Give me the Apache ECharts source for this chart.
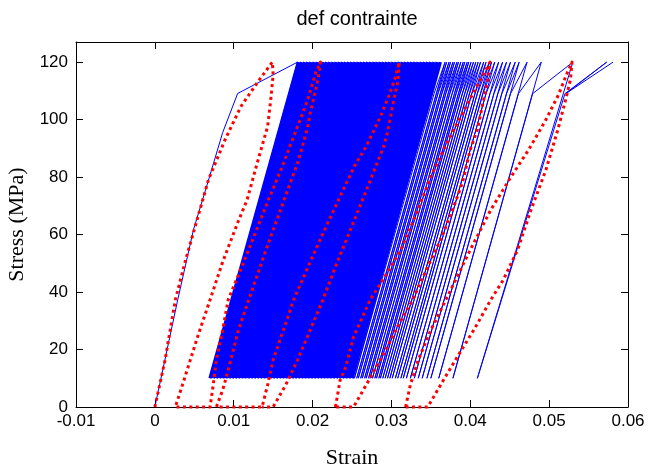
<!DOCTYPE html>
<html><head><meta charset="utf-8">
<script src="https://cdn.jsdelivr.net/npm/echarts@6/dist/echarts.min.js"></script>
<style>html,body{margin:0;padding:0;background:#fff}#c{width:651px;height:468px}</style>
</head><body><div id="c"></div>
<script>
// ---- axis ticks ----
const xTickValues = [-0.01, 0, 0.01, 0.02, 0.03, 0.04, 0.05, 0.06];
const xTickLabels = ['-0.01', '0', '0.01', '0.02', '0.03', '0.04', '0.05', '0.06'];
const yTickValues = [0, 20, 40, 60, 80, 100, 120];
const yTickLabels = ['0', '20', '40', '60', '80', '100', '120'];

// ---- blue (simulation): first loading ----
const blueInitStrain = [0, 0.0029, 0.0049, 0.0067, 0.0086, 0.0105, 0.0181];
const blueInitStress = [0, 37.3, 61.7, 78.0, 95.5, 109.1, 120];
const blueValleyStress = 10;
const blueKinkStress = 109;
const bluePeakStress = 120;

// ---- blue: densely packed cycles (strain at 10 MPa valley / 120 MPa peak) ----
const denseValley = [0.0070,0.0074,0.0078,0.0082,0.0086,0.0090,0.0094,0.0098,0.0102,0.0106,0.0110,0.0114,0.0118,0.0122,0.0126,0.0130,0.0134,0.0138,0.0142,0.0146,0.0150,0.0154,0.0158,0.0162,0.0166,0.0170,0.0174,0.0178,0.0182,0.0186,0.0190,0.0194,0.0198,0.0202,0.0206,0.0210,0.0214,0.0218,0.0222,0.0226,0.0230,0.0234,0.0238,0.0242,0.0246,0.0250];
const densePeak = [0.0182,0.0186,0.0190,0.0194,0.0198,0.0202,0.0206,0.0210,0.0214,0.0218,0.0222,0.0226,0.0230,0.0234,0.0238,0.0242,0.0246,0.0250,0.0254,0.0258,0.0262,0.0266,0.0270,0.0274,0.0278,0.0282,0.0286,0.0290,0.0294,0.0298,0.0302,0.0306,0.0310,0.0314,0.0318,0.0322,0.0326,0.0330,0.0334,0.0338,0.0342,0.0346,0.0350,0.0354,0.0358,0.0362];

// ---- blue: later, separated cycles ----
const sparseValley = [0.0253,0.0256,0.0258,0.0261,0.0263,0.0266,0.0268,0.0271,0.0273,0.0276,0.0279,0.0281,0.0284,0.0286,0.0289,0.0292,0.0295,0.0298,0.0301,0.0305,0.0308,0.0312,0.0315,0.0319,0.0324,0.0329,0.0334,0.0339,0.0345,0.0350,0.0360,0.0378,0.0409];
const sparseKink = [0.0354,0.0357,0.0359,0.0362,0.0364,0.0367,0.0369,0.0372,0.0374,0.0377,0.0380,0.0382,0.0385,0.0387,0.0390,0.0393,0.0396,0.0399,0.0402,0.0406,0.0409,0.0413,0.0416,0.0420,0.0425,0.0430,0.0435,0.0440,0.0446,0.0451,0.0461,0.0479,0.0520];
const sparsePeak = [0.0368,0.0370,0.0373,0.0375,0.0378,0.0380,0.0383,0.0385,0.0388,0.0391,0.0393,0.0396,0.0398,0.0401,0.0404,0.0407,0.0410,0.0413,0.0417,0.0420,0.0424,0.0427,0.0431,0.0436,0.0441,0.0446,0.0451,0.0457,0.0462,0.0472,0.0490,0.0530,0.0573];
// last excursion after the final peak
const blueTailStrain = [0.0521, 0.0581];
const blueTailStress = [109, 120];

// ---- red (dotted) loops ----
const redAStrain = [0,0.0013,0.0026,0.0039,0.0051,0.0068,0.0089,0.0109,0.0130,0.0149,
  0.0150,0.0147,0.0143,0.0131,0.0117,0.0105,0.0086,0.0070,0.0055,0.0045,0.0035,0.0026,
  0.0070,0.0074,0.0078,0.0086,0.0093,0.0119,0.0144,0.0159,0.0178,0.0194,0.0204,0.0210,
  0.0207,0.0201,0.0197,0.0194,0.0187,0.0181,0.0164,0.0141,0.0119,0.0106,0.0092,0.0086,0.0078,
  0.0136,0.0143,0.0150,0.0163,0.0176,0.0197,0.0220,0.0242,0.0254,0.0267,0.0277,0.0287,0.0296,0.0304,0.0310,
  0.0308,0.0303,0.0299,0.0295,0.0290,0.0282,0.0267,0.0248,0.0230,0.0213,0.0197,0.0181,0.0166,0.0150,0.0136];
const redAStress = [0,16.4,37.3,51.2,62.7,79.1,93.0,104.5,112.9,120,
  115.7,107,97.6,86.1,72.1,64.1,50.5,37.3,25.1,16.4,7.7,0,
  0,7.7,16.4,26.8,37.3,54.7,72.1,81.9,95.5,107.0,116.4,120,
  113.9,107,102.4,97.6,90.6,85,72.1,54.7,37.3,26.8,11.8,5.9,0,
  0,7.7,16.4,26.8,37.3,50.5,64.5,77.4,84.3,90.2,95.8,101.7,107.7,113.9,120,
  112.9,107,101,95.5,90.6,85,74.6,61.7,49.5,37.3,26.8,16.4,7.7,0,0];
const redBStrain = [0.0229,0.0235,0.0242,0.0252,0.0273,0.0293,0.0312,0.0331,0.0350,0.0366,0.0384,0.0404,0.0425,
  0.0423,0.0417,0.0409,0.0400,0.0390,0.0379,0.0366,0.0358,0.0343,0.0327,0.0309,0.0293,0.0273,0.0252,0.0229];
const redBStress = [0,9.4,13.9,24.4,37.3,46,54.7,66.9,80.1,89.5,99.0,109.4,120,
  115,107,96.5,89.5,78,69.7,60.6,55.7,47,37.3,28.6,19.9,10.1,0,0];
const redCStrain = [0.0318,0.0324,0.0334,0.0350,0.0369,0.0400,0.0426,0.0451,0.0474,0.0496,0.0512,0.0522,0.0529,
  0.0527,0.0521,0.0511,0.0496,0.0477,0.0460,0.0442,0.0426,0.0406,0.0385,0.0366,0.0346,0.0318];
const redCStress = [0,7.7,16.4,26.8,37.3,54.7,68.6,79.8,89.5,100,108.7,115.7,120,
  113.9,107,96.5,82.6,68.6,54.7,44.3,37.3,27.5,18.1,9.4,0,0];

// ---- build series data ----
const zip = (xs, ys) => xs.map((x, i) => [x, ys[i]]);
const blueInit = zip(blueInitStrain, blueInitStress);
blueInit.push([denseValley[0], blueValleyStress]);
const blueDense = [];
denseValley.forEach((v, i) => { blueDense.push([v, blueValleyStress]); blueDense.push([densePeak[i], bluePeakStress]); });
const blueSparse = [[densePeak[densePeak.length - 1], bluePeakStress]];
sparseValley.forEach((v, i) => {
  blueSparse.push([v, blueValleyStress]);
  blueSparse.push([sparseKink[i], blueKinkStress]);
  blueSparse.push([sparsePeak[i], bluePeakStress]);
});
zip(blueTailStrain, blueTailStress).forEach(p => blueSparse.push(p));

const BLUE = '#0000ff', RED = '#ff0000';
const redStyle = { color: RED, width: 3, type: [3, 3.4], cap: 'butt', join: 'round' };
const lineSeries = (data, ls, z) => ({
  type: 'line', data, showSymbol: false, symbol: 'none', lineStyle: ls, itemStyle: { color: ls.color },
  z, clip: false, animation: false, silent: true
});

const chart = echarts.init(document.getElementById('c'), null, { renderer: 'canvas' });
const axisBase = {
  type: 'value', splitLine: { show: false },
  axisLine: { show: true, onZero: false, lineStyle: { color: '#000', width: 1 } },
  axisTick: { show: true, inside: true, length: 7, lineStyle: { color: '#000', width: 1 } }
};
chart.setOption({
  backgroundColor: '#fff',
  animation: false,
  title: {
    text: 'def contrainte', left: 352, top: 4, textAlign: 'center',
    textStyle: { fontFamily: 'Liberation Sans', fontSize: 20, fontWeight: 'normal', color: '#000' }
  },
  grid: { left: 76, right: 23, top: 42, bottom: 61, containLabel: false, outerBoundsMode: 'none' },
  xAxis: [
    Object.assign({}, axisBase, {
      position: 'bottom', min: -0.01, max: 0.06, interval: 0.01,
      name: 'Strain', nameLocation: 'middle', nameGap: 40,
      nameTextStyle: { fontFamily: 'Liberation Serif', fontSize: 22, color: '#000' },
      axisLabel: {
        margin: 6, color: '#000', fontFamily: 'Liberation Sans', fontSize: 17,
        formatter: v => { const i = xTickValues.findIndex(t => Math.abs(t - v) < 1e-9); return i >= 0 ? xTickLabels[i] : ''; }
      }
    }),
    Object.assign({}, axisBase, {
      position: 'top', min: -0.01, max: 0.06, interval: 0.01, axisLabel: { show: false }
    })
  ],
  yAxis: [
    Object.assign({}, axisBase, {
      position: 'left', min: 0, max: 127, interval: 20,
      name: 'Stress (MPa)', nameLocation: 'middle', nameGap: 48, nameRotate: 90,
      nameTextStyle: { fontFamily: 'Liberation Serif', fontSize: 22, color: '#000' },
      axisLabel: {
        margin: 8, color: '#000', fontFamily: 'Liberation Sans', fontSize: 17, showMaxLabel: false,
        formatter: v => { const i = yTickValues.findIndex(t => Math.abs(t - v) < 1e-9); return i >= 0 ? yTickLabels[i] : ''; }
      }
    }),
    Object.assign({}, axisBase, {
      position: 'right', min: 0, max: 127, interval: 20, axisLabel: { show: false }
    })
  ],
  series: [
    lineSeries(blueDense, { color: BLUE, width: 3.4, join: 'bevel' }, 2),
    lineSeries(blueInit, { color: BLUE, width: 1 }, 3),
    lineSeries(blueSparse, { color: BLUE, width: 1 }, 3),
    lineSeries(zip(redAStrain, redAStress), redStyle, 5),
    lineSeries(zip(redBStrain, redBStress), redStyle, 5),
    lineSeries(zip(redCStrain, redCStress), redStyle, 5)
  ]
});
</script></body></html>
